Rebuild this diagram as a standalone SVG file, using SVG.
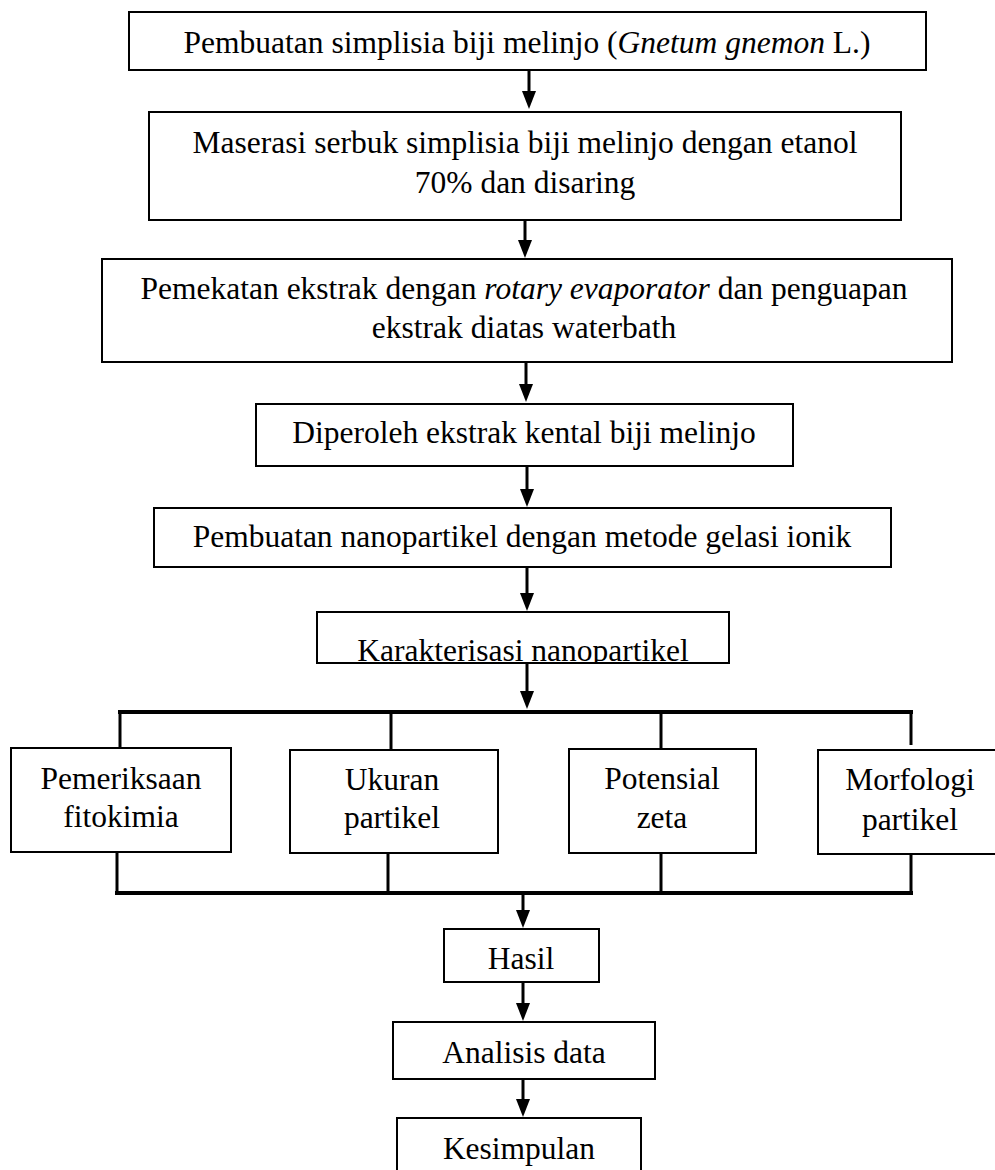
<svg xmlns="http://www.w3.org/2000/svg" width="995" height="1170" viewBox="0 0 995 1170">
<style>
.box{fill:#fff;stroke:#000;stroke-width:2}
.t{font-family:"Liberation Serif","Times New Roman",serif;font-size:31.5px;fill:#000;text-anchor:middle}
.i{font-style:italic}
.arr{stroke:#000;stroke-width:3;fill:none;marker-end:url(#ah)}
.bar{stroke:#000;stroke-width:4;fill:none}
.drop{stroke:#000;stroke-width:3;fill:none}
</style>
<defs>
<marker id="ah" markerUnits="userSpaceOnUse" markerWidth="18" markerHeight="14" refX="10" refY="7" orient="auto">
<path d="M0,0 L18,7 L0,14 z" fill="#000"/>
</marker>
<clipPath id="c6"><rect x="318" y="613" width="411" height="49"/></clipPath>
</defs>
<rect width="995" height="1170" fill="#fff"/>
<g id="connectors">
<line class="arr" x1="529" y1="71" x2="529" y2="101"/>
<line class="arr" x1="525" y1="221" x2="525" y2="250"/>
<line class="arr" x1="526" y1="363" x2="526" y2="394"/>
<line class="arr" x1="527" y1="467" x2="527" y2="499"/>
<line class="arr" x1="527" y1="568" x2="527" y2="603"/>
<line class="arr" x1="527" y1="664" x2="527" y2="701"/>
<line class="bar" x1="118" y1="712" x2="913" y2="712"/>
<line class="drop" x1="120" y1="712" x2="120" y2="748"/>
<line class="drop" x1="391" y1="712" x2="391" y2="750"/>
<line class="drop" x1="661" y1="712" x2="661" y2="749"/>
<line class="drop" x1="911" y1="710" x2="911" y2="745"/>
<line class="drop" x1="117" y1="853" x2="117" y2="893"/>
<line class="drop" x1="388" y1="854" x2="388" y2="893"/>
<line class="drop" x1="661" y1="854" x2="661" y2="893"/>
<line class="drop" x1="911" y1="855" x2="911" y2="893"/>
<line class="bar" x1="115" y1="893" x2="913" y2="893"/>
<line class="arr" x1="523" y1="895" x2="523" y2="920"/>
<line class="arr" x1="523" y1="983" x2="523" y2="1013"/>
<line class="arr" x1="523" y1="1080" x2="523" y2="1109"/>
</g>
<g id="n1">
<rect class="box" x="129" y="12" width="797" height="58"/>
<text class="t" x="527" y="53">Pembuatan simplisia biji melinjo (<tspan class="i">Gnetum gnemon</tspan> L.)</text>
</g>
<g id="n2">
<rect class="box" x="149" y="112" width="752" height="108"/>
<text class="t" x="525" y="153">Maserasi serbuk simplisia biji melinjo dengan etanol</text>
<text class="t" x="525" y="193">70% dan disaring</text>
</g>
<g id="n3">
<rect class="box" x="102" y="259" width="850" height="103"/>
<text class="t" x="524" y="299">Pemekatan ekstrak dengan <tspan class="i">rotary evaporator</tspan> dan penguapan</text>
<text class="t" x="524" y="338">ekstrak diatas waterbath</text>
</g>
<g id="n4">
<rect class="box" x="256" y="404" width="537" height="62"/>
<text class="t" x="524" y="443">Diperoleh ekstrak kental biji melinjo</text>
</g>
<g id="n5">
<rect class="box" x="154" y="508" width="737" height="59"/>
<text class="t" x="522" y="547">Pembuatan nanopartikel dengan metode gelasi ionik</text>
</g>
<g id="n6">
<rect class="box" x="317" y="612" width="412" height="51"/>
<text class="t" x="523" y="661" clip-path="url(#c6)">Karakterisasi nanopartikel</text>
</g>
<g id="n7">
<rect class="box" x="11" y="748" width="220" height="104"/>
<text class="t" x="121" y="789">Pemeriksaan</text>
<text class="t" x="121" y="827">fitokimia</text>
</g>
<g id="n8">
<rect class="box" x="290" y="750" width="208" height="103"/>
<text class="t" x="392" y="790">Ukuran</text>
<text class="t" x="392" y="828">partikel</text>
</g>
<g id="n9">
<rect class="box" x="569" y="749" width="187" height="104"/>
<text class="t" x="662" y="789">Potensial</text>
<text class="t" x="662" y="828">zeta</text>
</g>
<g id="n10">
<rect class="box" x="818" y="750" width="190" height="104"/>
<text class="t" x="910" y="790">Morfologi</text>
<text class="t" x="910" y="830">partikel</text>
</g>
<g id="n11">
<rect class="box" x="444" y="929" width="155" height="53"/>
<text class="t" x="521" y="969">Hasil</text>
</g>
<g id="n12">
<rect class="box" x="393" y="1022" width="262" height="57"/>
<text class="t" x="524" y="1063">Analisis data</text>
</g>
<g id="n13">
<rect class="box" x="397" y="1118" width="244" height="70"/>
<text class="t" x="519" y="1159">Kesimpulan</text>
</g>
</svg>
